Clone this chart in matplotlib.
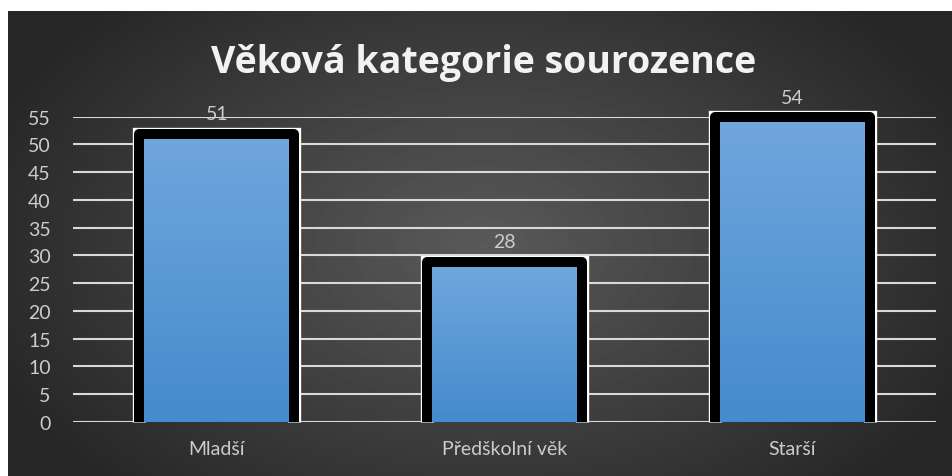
import numpy as np
import matplotlib
matplotlib.use("Agg")
import matplotlib.pyplot as plt
from matplotlib.colors import LinearSegmentedColormap

plt.rcParams['font.family'] = ['Lato', 'DejaVu Sans']

# data
categories = ['Mladší', 'Předškolní věk', 'Starší']
values = [51, 28, 54]
yticks = list(range(0, 60, 5))
title = 'Věková kategorie sourozence'

W, H = 953, 477
fig = plt.figure(figsize=(W / 100, H / 100), dpi=100)
fig.patch.set_facecolor('white')

# dark radial background
bg = fig.add_axes([8 / W, 0, (W - 8) / W, (H - 12) / H])
bg.set_axis_off()
yy, xx = np.mgrid[0:465, 0:945]
cx, cy = 475, 235
r = np.sqrt(((xx - cx) / 540.0) ** 2 + ((yy - cy) / 340.0) ** 2)
r = np.clip(r, 0, 1)
shade = 0x5a + (0x26 - 0x5a) * r
bg.imshow(shade, cmap='gray', vmin=0, vmax=255, aspect='auto',
          interpolation='bilinear')

ax = fig.add_axes([73 / W, 54 / H, 863 / W, (423 - 117.7) / H])
ax.patch.set_alpha(0)
x = np.arange(len(categories))

# gridlines
ax.set_yticks(yticks)
ax.yaxis.grid(True, color='#d9d9d9', linewidth=1.5, zorder=0)
ax.set_axisbelow(True)
for s in ax.spines.values():
    s.set_visible(False)
ax.tick_params(length=0, colors='#cccccc', labelsize=14)
ax.tick_params(axis='y', pad=16)
ax.tick_params(axis='x', pad=13)
ax.set_xticks(x)
ax.set_xticklabels(categories)

# bars: blue gradient with thick black rounded border on a white frame
bw = 0.504
h = bw / 2 + 5 / 287.7
dv = 5 / 5.55
blue = LinearSegmentedColormap.from_list('b', ['#458bcd', '#6fa6dc'])
grad = np.linspace(0, 1, 256).reshape(-1, 1)
bars = ax.bar(x, values, width=bw, color='none', linewidth=0, zorder=2.5)
for xi, v, b in zip(x, values, bars):
    px = [xi - h, xi - h, xi + h, xi + h]
    py = [0, v + dv, v + dv, 0]
    ax.plot(px, py, color='white', linewidth=9.6, solid_joinstyle='miter',
            solid_capstyle='butt', zorder=2, clip_on=False)
    ax.plot(px, py, color='black', linewidth=7.2, solid_joinstyle='round',
            solid_capstyle='butt', zorder=3, clip_on=False)
    im = ax.imshow(grad, cmap=blue, origin='lower', aspect='auto',
                   extent=(xi - bw / 2, xi + bw / 2, 0, v), zorder=2.5)
    im.set_clip_path(b)
    ax.annotate(str(v), (xi, v), xytext=(0, 18), textcoords='offset points',
                ha='center', va='center', color='#cccccc', fontsize=14,
                annotation_clip=False)

ax.set_xlim(-0.5, len(categories) - 0.5)
ax.set_ylim(0, 55)

fig.text(484 / W, 1 - 73 / H, title, ha='center', va='baseline',
         color='#f2f2f2', fontsize=27, fontweight='bold',
         family=['Open Sans', 'DejaVu Sans'])

fig.savefig('out.png', dpi=100)
